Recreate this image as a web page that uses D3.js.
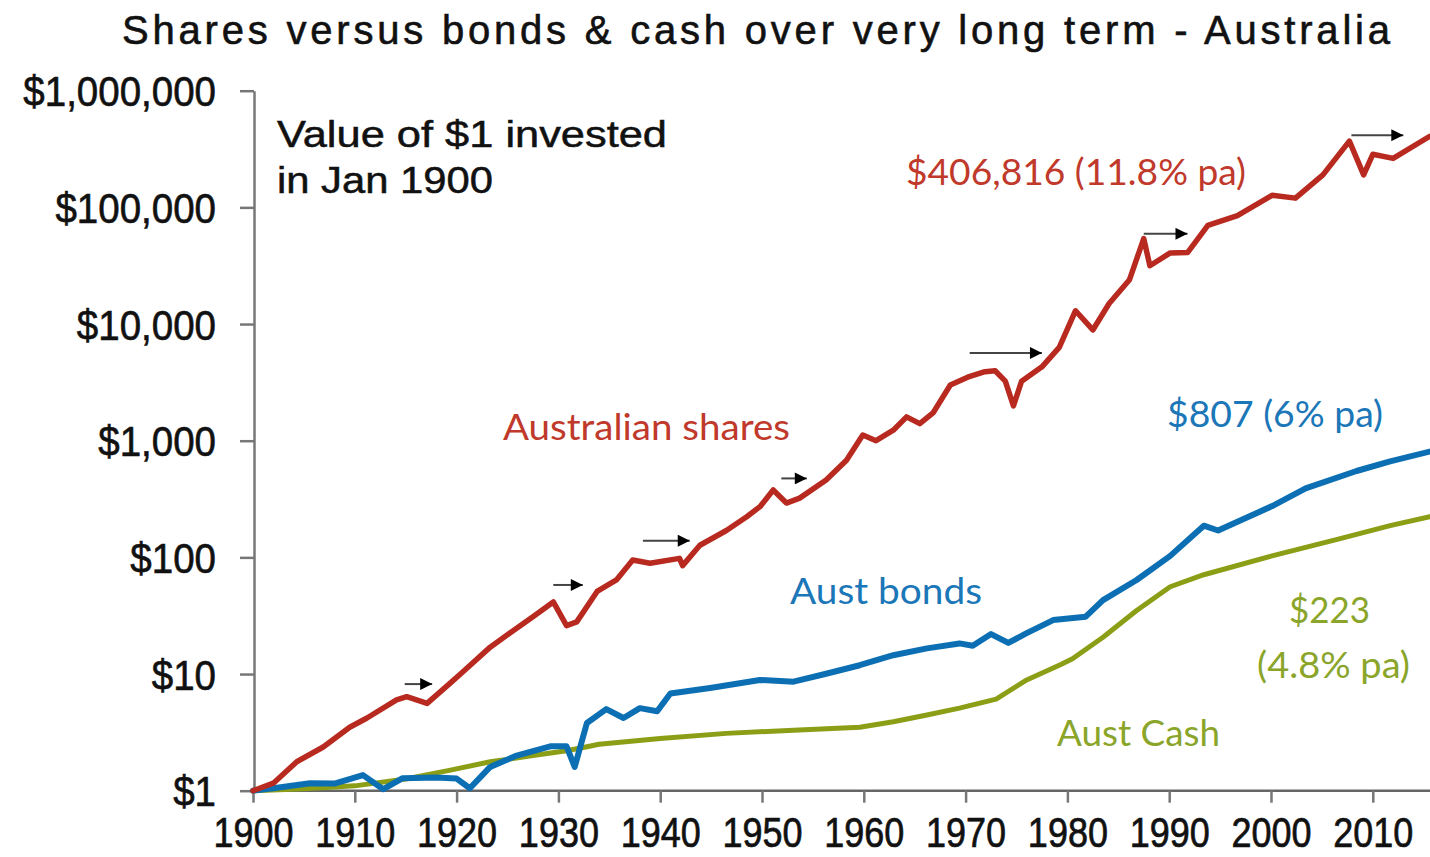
<!DOCTYPE html>
<html>
<head>
<meta charset="utf-8">
<script src="https://cdn.jsdelivr.net/npm/d3@7"></script>
<style>
  body { margin: 0; background: #fff; }
  svg { display: block; }
</style>
</head>
<body>
<div id="chart"></div>
<script>
// tick labels
const valueTicks = [1, 10, 100, 1000, 10000, 100000, 1000000];
const yearTicks = [1900, 1910, 1920, 1930, 1940, 1950, 1960, 1970, 1980, 1990, 2000, 2010];

// value of $1 invested in Jan 1900 [year, value]
const shares = [
  [1900, 1.0], [1902, 1.16], [1904.3, 1.77], [1906.9, 2.37], [1909.5, 3.5], [1911.2, 4.2],
  [1914.1, 6.0], [1915.1, 6.4], [1917.1, 5.6], [1919.4, 8.4], [1920.6, 10.4], [1923.3, 17],
  [1925.2, 22.4], [1927.5, 31], [1929.5, 41.5], [1930.8, 26], [1931.8, 28], [1933.8, 51],
  [1935.7, 64], [1937.3, 95], [1939, 89], [1941.9, 98], [1942.2, 85], [1943.9, 127],
  [1946.5, 170], [1948.5, 223], [1949.8, 272], [1951.1, 378], [1952.4, 292], [1953.7, 322],
  [1956.3, 460], [1958.3, 680], [1959.9, 1120], [1961.2, 1000], [1962.9, 1230], [1964.2, 1600],
  [1965.5, 1400], [1966.8, 1730], [1968.5, 3000], [1970.2, 3500], [1971.9, 3900], [1972.9, 3980],
  [1973.9, 3240], [1974.7, 1990], [1975.5, 3240], [1977.5, 4300], [1979.2, 6300], [1980.8, 13000],
  [1982.5, 8900], [1984.1, 15000], [1986.1, 24000], [1987.5, 54000], [1988.1, 31600], [1990.1, 40700],
  [1991.8, 41000], [1993.8, 70000], [1996.7, 85000], [2000.1, 127000], [2002.4, 120000], [2005.1, 190000],
  [2007.7, 370000], [2009.1, 190000], [2010, 285000], [2012, 263000], [2015.6, 406816]
];

const bonds = [
  [1900, 1.0], [1902, 1.05], [1905.6, 1.16], [1908, 1.15], [1910.8, 1.36], [1912.8, 1.03],
  [1914.7, 1.28], [1918, 1.3], [1920, 1.27], [1921.3, 1.05], [1923.3, 1.6], [1925.9, 2.0],
  [1929.2, 2.4], [1930.8, 2.4], [1931.6, 1.6], [1932.8, 3.8], [1934.7, 5.0], [1936.4, 4.2],
  [1938, 5.1], [1939.7, 4.8], [1941, 6.8], [1944.9, 7.6], [1949.8, 8.9], [1953.1, 8.6],
  [1956.4, 10.1], [1959.6, 11.9], [1962.9, 14.5], [1966.2, 16.6], [1969.4, 18.3], [1970.7, 17.5],
  [1972.5, 22], [1974.2, 18.5], [1976, 22.4], [1978.6, 29], [1981.8, 31], [1983.5, 43],
  [1986.8, 64], [1990.1, 103], [1993.4, 187], [1994.8, 170], [2000.3, 280], [2003.4, 390],
  [2008.4, 550], [2011.7, 665], [2015.6, 807]
];

const cash = [
  [1900, 1.0], [1905, 1.04], [1910, 1.1], [1915, 1.26], [1919.4, 1.5], [1923.3, 1.77],
  [1927.5, 2.0], [1930.8, 2.2], [1932.8, 2.38], [1934, 2.5], [1940, 2.8], [1946.5, 3.1],
  [1953.1, 3.3], [1959.6, 3.5], [1962.9, 3.9], [1966.2, 4.45], [1969.4, 5.1], [1973, 6.1],
  [1976, 8.9], [1979.3, 12.0], [1980.5, 13.5], [1983.5, 20.7], [1986.8, 35], [1990.1, 56],
  [1993.4, 71], [2000.1, 103], [2006.7, 144], [2011.7, 187], [2015.6, 223]
];

// black arrows above the share line [fromYear, toYear, value]
const arrows = [
  [1914.9, 1917.6, 8.2], [1929.5, 1932.4, 58], [1938.3, 1942.9, 139], [1951.9, 1954.4, 475],
  [1970.4, 1977.5, 5650], [1987.5, 1991.8, 59300], [2007.9, 2013.0, 416000]
];

const W = 1430, H = 857;

const svg = d3.select("#chart")
  .append("svg")
  .attr("width", W)
  .attr("height", H);

const x = d3.scaleLinear().domain([1900, 2010]).range([253, 1372.8]);
const y = d3.scaleLog().domain([1, 1000000]).range([790.7, 90.7]);
const xEnd = x.invert(1430);

// title
svg.append("text")
  .attr("x", 122)
  .attr("y", 44)
  .attr("textLength", 1268)
  .attr("lengthAdjust", "spacing")
  .style("font-family", "Liberation Sans, Arial, sans-serif")
  .style("font-size", "40px")
  .style("fill", "#111")
  .style("stroke", "#111")
  .style("stroke-width", "0.6px")
  .text("Shares versus bonds & cash over very long term - Australia");

// y axis
const yAxis = svg.append("g")
  .attr("transform", "translate(254,0)")
  .call(d3.axisLeft(y)
    .tickValues(valueTicks)
    .tickFormat(d => "$" + d3.format(",")(d))
    .tickSize(14)
    .tickSizeOuter(0)
    .tickPadding(24));
yAxis.select(".domain").attr("stroke", "#777").attr("stroke-width", 2.5);
yAxis.selectAll(".tick line").attr("stroke", "#777").attr("stroke-width", 2.5);
yAxis.selectAll(".tick text")
  .attr("dy", "0.36em")
  .attr("transform", "scale(1,1.1)")
  .style("font-family", "Liberation Sans, Arial, sans-serif")
  .style("font-size", "38.5px")
  .style("fill", "#111")
  .style("stroke", "#111")
  .style("stroke-width", "0.6px");

// x axis
const xAxis = svg.append("g")
  .attr("transform", "translate(0," + y(1) + ")")
  .call(d3.axisBottom(x)
    .tickValues(yearTicks)
    .tickFormat(d3.format("d"))
    .tickSize(12)
    .tickSizeOuter(0)
    .tickPadding(10));
xAxis.select(".domain")
  .attr("d", "M" + x(1900) + ",0H" + x(xEnd))
  .attr("stroke", "#666").attr("stroke-width", 2.5);
xAxis.selectAll(".tick line").attr("stroke", "#777").attr("stroke-width", 2.5);
xAxis.selectAll(".tick text")
  .attr("dy", "0")
  .attr("y", 47)
  .attr("transform", "scale(1,1.2)")
  .style("font-family", "Liberation Sans, Arial, sans-serif")
  .style("font-size", "36px")
  .style("fill", "#111")
  .style("stroke", "#111")
  .style("stroke-width", "0.6px");

// lines
const line = d3.line()
  .x(d => x(d[0]))
  .y(d => y(d[1]));

const series = [
  { data: cash, color: "#8b9e16", width: 5 },
  { data: bonds, color: "#0c6fb3", width: 6 },
  { data: shares, color: "#b82a1f", width: 5.5 }
];

series.forEach(s => {
  svg.append("path")
    .datum(s.data)
    .attr("fill", "none")
    .attr("stroke", s.color)
    .attr("stroke-width", s.width)
    .attr("stroke-linejoin", "round")
    .attr("stroke-linecap", "round")
    .attr("d", line);
});

// arrows
svg.append("defs").append("marker")
  .attr("id", "head")
  .attr("viewBox", "0 0 10 10")
  .attr("refX", 10)
  .attr("refY", 5)
  .attr("markerUnits", "userSpaceOnUse")
  .attr("markerWidth", 14)
  .attr("markerHeight", 12)
  .attr("orient", "auto")
  .append("path")
  .attr("d", "M0,0L10,5L0,10Z")
  .attr("fill", "#000");

svg.selectAll(".arrow")
  .data(arrows)
  .enter()
  .append("line")
  .attr("class", "arrow")
  .attr("x1", d => x(d[0]))
  .attr("x2", d => x(d[1]))
  .attr("y1", d => y(d[2]))
  .attr("y2", d => y(d[2]))
  .attr("stroke", "#444")
  .attr("stroke-width", 2)
  .attr("marker-end", "url(#head)");

// annotations
function label(txt, px, py, color, len, size) {
  svg.append("text")
    .attr("x", px)
    .attr("y", py)
    .attr("textLength", len)
    .attr("lengthAdjust", "spacingAndGlyphs")
    .style("font-family", "Lato, Open Sans, sans-serif")
    .style("font-size", size + "px")
    .style("fill", color)
    .text(txt);
}

const red = "#c0392b", blue = "#1b77b8", green = "#8aa52a";
label("$406,816 (11.8% pa)", 906, 185, red, 340, 37);
label("Australian shares", 503, 440, red, 287, 37);
label("$807 (6% pa)", 1167, 427, blue, 216, 37);
label("Aust bonds", 790, 604, blue, 192, 37);
label("$223", 1289, 623, green, 81, 37);
label("(4.8% pa)", 1257, 678, green, 153, 37);
label("Aust Cash", 1057, 746, green, 163, 37);

const note = ["Value of $1 invested", "in Jan 1900"];
note.forEach((t, i) => {
  svg.append("text")
    .attr("x", 277)
    .attr("y", 147 + i * 46)
    .attr("textLength", i === 0 ? 390 : 216)
    .attr("lengthAdjust", "spacingAndGlyphs")
    .style("font-family", "Liberation Sans, Arial, sans-serif")
    .style("font-size", "36px")
    .style("fill", "#111")
    .style("stroke", "#111")
    .style("stroke-width", "0.5px")
    .text(t);
});
</script>
</body>
</html>
